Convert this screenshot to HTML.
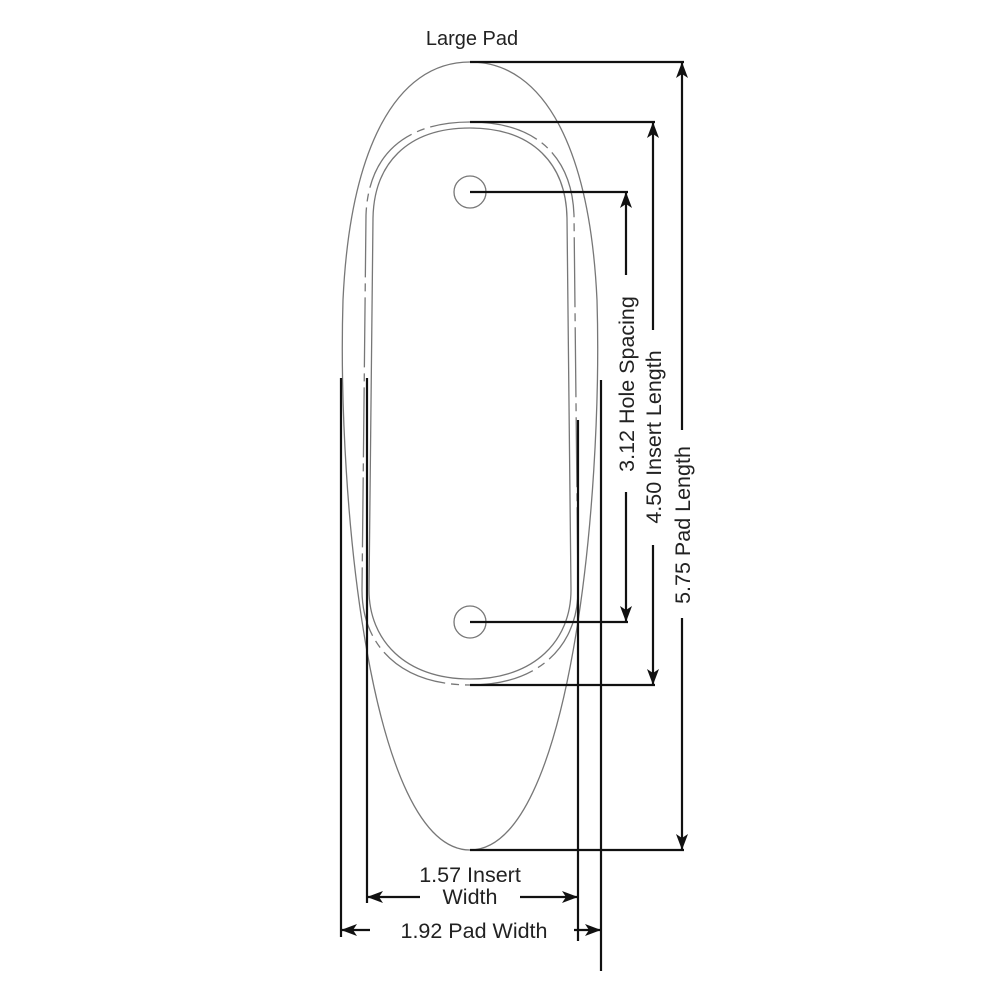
<!DOCTYPE html>
<html><head><style>body{margin:0;background:#fff}svg{display:block}</style></head><body>
<svg width="998" height="999" viewBox="0 0 998 999" xmlns="http://www.w3.org/2000/svg" font-family="Liberation Sans, Arial, sans-serif">
<defs>
<marker id="a" markerWidth="16" markerHeight="12" refX="15" refY="6" orient="auto" markerUnits="userSpaceOnUse"><path d="M0,0 L16,6 L0,12 L4,6 Z" fill="#111"/></marker>
</defs>
<text x="472" y="45" font-size="20" text-anchor="middle" fill="#222">Large Pad</text>
<!-- pad outline -->
<path d="M470,62 C545,62 590,150 597,300 C603,500 570,850 470,850 C370,850 337,500 343,300 C350,150 395,62 470,62 Z" fill="none" stroke="#777" stroke-width="1.3"/>
<!-- insert dashed outer -->
<path d="M470,122 C540,122 572,160 574,215 L578,590 C578,645 540,685 470,685 C400,685 362,645 362,590 L366,215 C368,160 400,122 470,122 Z" fill="none" stroke="#777" stroke-width="1.3" stroke-dasharray="70,6,8,6"/>
<!-- insert inner -->
<path d="M470,128 C534,128 566,165 567,218 L571,590 C571,640 535,679 470,679 C405,679 369,640 369,590 L373,218 C374,165 406,128 470,128 Z" fill="none" stroke="#777" stroke-width="1.3"/>
<circle cx="470" cy="192" r="16" fill="none" stroke="#777" stroke-width="1.3"/>
<circle cx="470" cy="622" r="16" fill="none" stroke="#777" stroke-width="1.3"/>
<g stroke="#111" stroke-width="2.2" fill="none">
<line x1="470" y1="62" x2="684" y2="62"/>
<line x1="470" y1="850" x2="684" y2="850"/>
<line x1="470" y1="122" x2="655" y2="122"/>
<line x1="470" y1="685" x2="655" y2="685"/>
<line x1="470" y1="192" x2="628" y2="192"/>
<line x1="470" y1="622" x2="628" y2="622"/>
<line x1="626" y1="275" x2="626" y2="193" marker-end="url(#a)"/>
<line x1="626" y1="492" x2="626" y2="621" marker-end="url(#a)"/>
<line x1="653" y1="330" x2="653" y2="123" marker-end="url(#a)"/>
<line x1="653" y1="545" x2="653" y2="684" marker-end="url(#a)"/>
<line x1="682" y1="430" x2="682" y2="63" marker-end="url(#a)"/>
<line x1="682" y1="618" x2="682" y2="849" marker-end="url(#a)"/>
<line x1="341" y1="378" x2="341" y2="937"/>
<line x1="367" y1="378" x2="367" y2="903"/>
<line x1="578" y1="420" x2="578" y2="941"/>
<line x1="601" y1="380" x2="601" y2="971"/>
<line x1="420" y1="897" x2="368" y2="897" marker-end="url(#a)"/>
<line x1="520" y1="897" x2="577" y2="897" marker-end="url(#a)"/>
<line x1="370" y1="930" x2="342" y2="930" marker-end="url(#a)"/>
<line x1="574" y1="930" x2="600" y2="930" marker-end="url(#a)"/>
</g>
<g font-size="21.5" fill="#222" text-anchor="middle">
<text transform="translate(634,384) rotate(-90)">3.12 Hole Spacing</text>
<text transform="translate(661,437) rotate(-90)">4.50 Insert Length</text>
<text transform="translate(690,525) rotate(-90)">5.75 Pad Length</text>
<text x="470" y="882">1.57 Insert</text>
<text x="470" y="904">Width</text>
<text x="474" y="938">1.92 Pad Width</text>
</g>
</svg>
</body></html>
